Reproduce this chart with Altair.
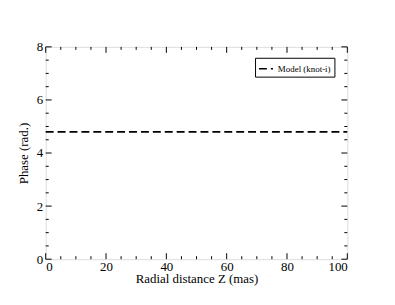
import altair as alt
import pandas as pd

# data
model_x = [0, 100]
model_y = [4.8, 4.8]
series_name = "Model (knot-i)"
x_major = [0, 20, 40, 60, 80, 100]
y_major = [0, 2, 4, 6, 8]
x_minor = [v for v in range(0, 101, 5) if v % 20 != 0]
y_minor = [v / 2 for v in range(0, 17) if v % 4 != 0]

W, H = 304, 214
FONT = "'Liberation Serif', 'Times New Roman', serif"

line_df = pd.DataFrame({"x": model_x, "y": model_y, "s": [series_name] * 2})

xs = alt.Scale(domain=[0, 100], nice=False)
ys = alt.Scale(domain=[0, 8], nice=False)

line = alt.Chart(line_df).mark_line(strokeWidth=1.7, color="black").encode(
    x=alt.X("x:Q", scale=xs,
            axis=alt.Axis(values=x_major, ticks=False, domain=False, grid=False,
                          labelFont=FONT, labelFontSize=13, labelColor="black",
                          labelPadding=1, title="Radial distance Z (mas)",
                          titleFont=FONT, titleFontSize=13, titleFontWeight="normal",
                          titleColor="black", titlePadding=0)),
    y=alt.Y("y:Q", scale=ys,
            axis=alt.Axis(values=y_major, ticks=False, domain=False, grid=False,
                          labelFont=FONT, labelFontSize=13, labelColor="black",
                          labelPadding=3, title="Phase (rad.)",
                          titleFont=FONT, titleFontSize=13, titleFontWeight="normal",
                          titleColor="black", titlePadding=6)),
    strokeDash=alt.StrokeDash("s:N", scale=alt.Scale(range=[[8, 4]]),
                              legend=alt.Legend(title=None, orient="none",
                                                legendX=211, legendY=11,
                                                labelFont=FONT, labelFontSize=9,
                                                labelColor="black",
                                                symbolType="stroke", symbolSize=200,
                                                symbolStrokeWidth=1.5,
                                                symbolStrokeColor="black",
                                                strokeColor="black", padding=3,
                                                fillColor="white")),
)

def xticks(vals, length):
    df = pd.DataFrame({"t": vals})
    bot = alt.Chart(df).mark_rule(color="black", strokeWidth=1).encode(
        x=alt.X("t:Q", scale=xs), y=alt.value(H), y2=alt.value(H - length))
    top = alt.Chart(df).mark_rule(color="black", strokeWidth=1).encode(
        x=alt.X("t:Q", scale=xs), y=alt.value(0), y2=alt.value(length))
    return [bot, top]

def yticks(vals, length):
    df = pd.DataFrame({"t": vals})
    left = alt.Chart(df).mark_rule(color="black", strokeWidth=1).encode(
        y=alt.Y("t:Q", scale=ys), x=alt.value(0), x2=alt.value(length))
    right = alt.Chart(df).mark_rule(color="black", strokeWidth=1).encode(
        y=alt.Y("t:Q", scale=ys), x=alt.value(W), x2=alt.value(W - length))
    return [left, right]

layers = [line] + xticks(x_major, 6) + xticks(x_minor, 3) + yticks(y_major, 6) + yticks(y_minor, 3)

chart = alt.layer(*layers).properties(
    width=W, height=H,
    autosize=alt.AutoSizeParams(type="none"),
    padding={"left": 38, "top": 38, "right": 40, "bottom": 45},
).configure_view(stroke="#333333", strokeWidth=1.5).configure(background="white")

chart.save("out.html", embed_options={"renderer": "svg", "actions": False})
